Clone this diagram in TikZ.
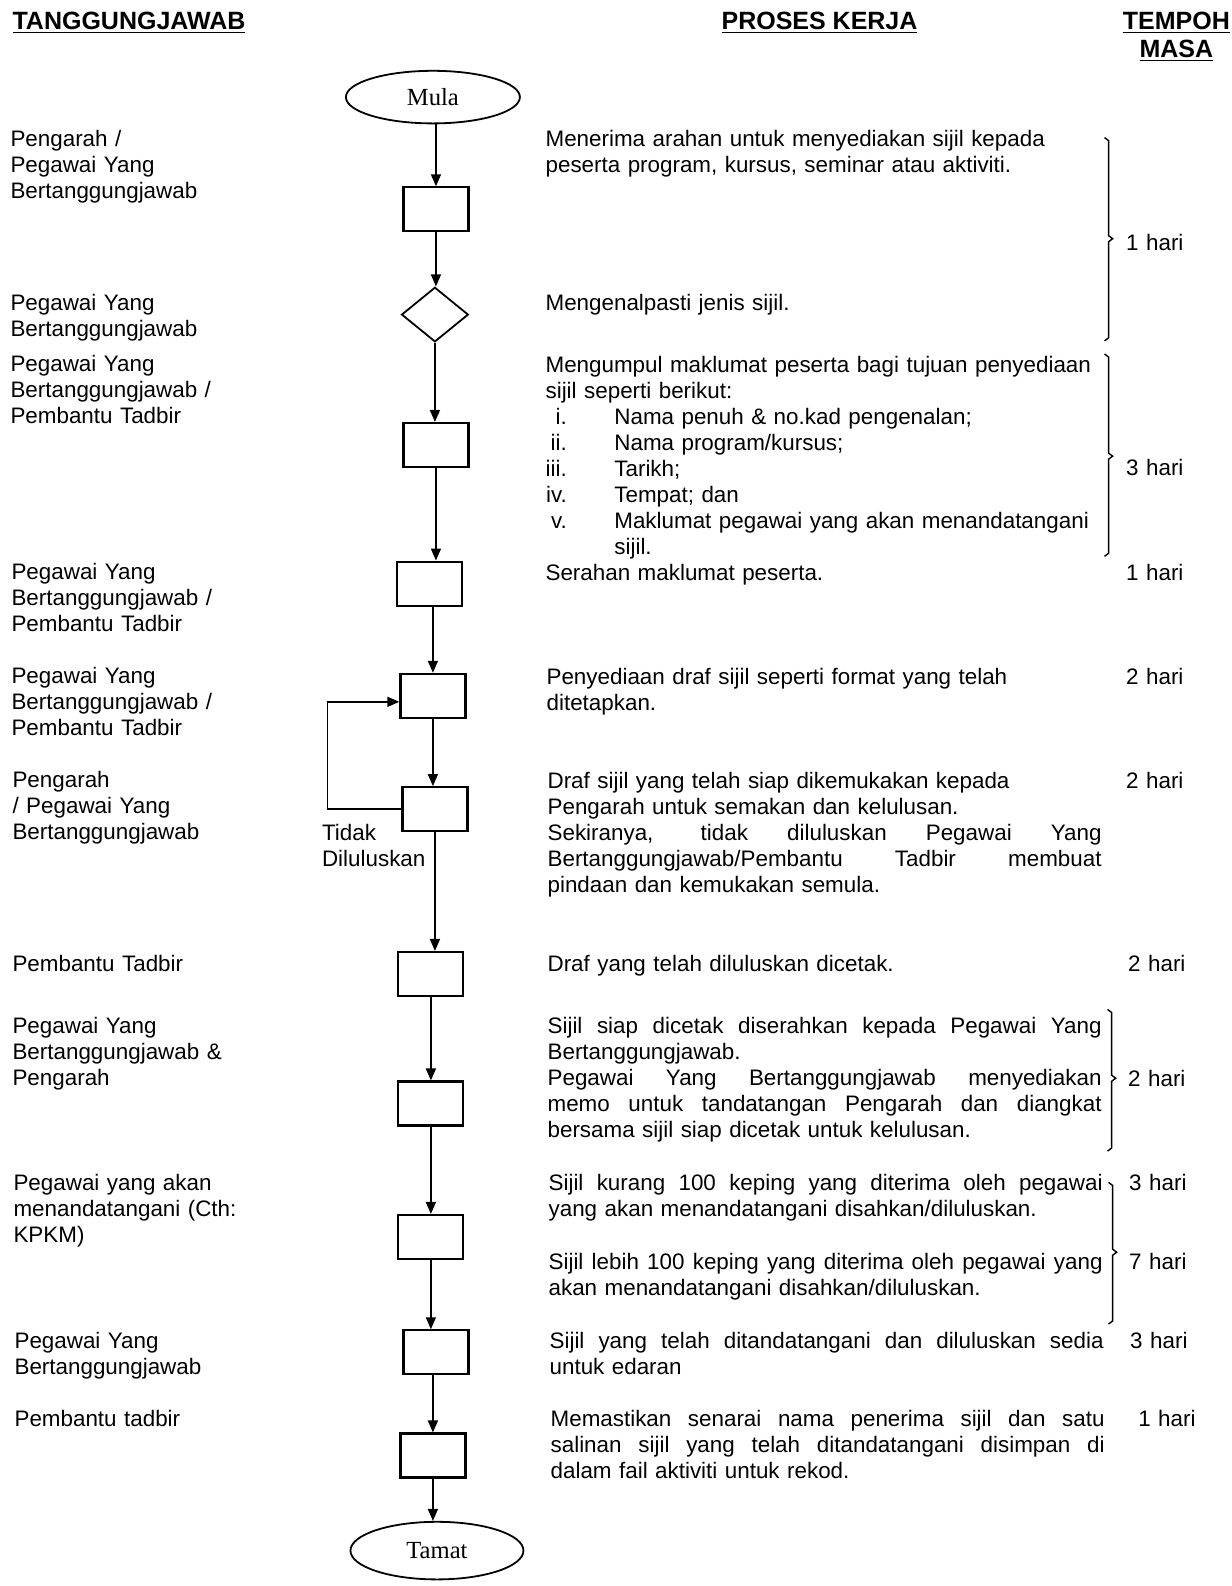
\documentclass[tikz,border=0pt]{standalone}
\usepackage{fontspec}
\setmainfont{Liberation Sans}
\newfontfamily\termfont{Liberation Serif}
\usetikzlibrary{arrows.meta,shapes.geometric}
\newlength\colw
\setlength\colw{277pt}
\newcommand{\jl}[1]{\makebox[\colw][s]{\spaceskip=0.278em plus 1em minus 0.05em\relax #1}}
\newcommand{\rn}[1]{\makebox[10.6pt][r]{#1}\hspace{23.8pt}}

\begin{document}
\begin{tikzpicture}[x=0.50575pt, y=-0.50575pt,
  box/.style={draw, line width=1.1pt, minimum width=32.5pt, minimum height=22pt, inner sep=0pt},
  term/.style={draw, ellipse, line width=0.9pt, inner sep=0pt, font=\termfont\fontsize{12.3}{14}\selectfont},
  arr/.style={line width=0.8pt, -{Triangle[length=6pt, width=5pt]}},
  brk/.style={line width=0.7pt},
  lab/.style={anchor=base west, inner sep=0pt, align=left, text width=130pt, font=\fontsize{11.2}{13}\selectfont},
  proc/.style={lab, text width=\colw},
  hdr/.style={anchor=base west, inner sep=0pt, font=\fontsize{12.5}{14}\selectfont\bfseries}]

\useasboundingbox (0,0) rectangle (1218,1568);

\node[hdr] (hTang) at (12,29) {\underline{TANGGUNGJAWAB}};
\node[hdr] (hProses) at (713,29) {\underline{PROSES KERJA}};
\node[hdr, text width=56pt, align=center, anchor=base] (hTempoh) at (1163,29) {\underline{TEMPOH}\\\underline{MASA}};

\node[term, minimum width=87pt, minimum height=26.3pt] (mula) at (428,96) {Mula};
\node[box] (b1) at (431,207) {};
\node[draw, diamond, line width=0.9pt, minimum width=33.4pt, minimum height=27.3pt, inner sep=0pt] (d1) at (430,311) {};
\node[box] (b2) at (431,440) {};
\node[box] (b3) at (425,577) {};
\node[box] (b4) at (428,688) {};
\node[box] (b5) at (430,800) {};
\node[box] (b6) at (426,963) {};
\node[box] (b7) at (426,1091) {};
\node[box] (b8) at (426,1223) {};
\node[box] (b9) at (431,1337) {};
\node[box] (b10) at (428,1439) {};
\node[term, minimum width=86.5pt, minimum height=28.8pt] (tamat) at (432,1533) {Tamat};

\draw[arr] (mula.south -| b1) -- (b1.north);
\draw[arr] (b1.south) -- (b1.south |- d1.north);
\draw[arr] (d1.south) -- (d1.south |- b2.north);
\draw[arr] (b2.south) -- (b2.south |- b3.north);
\draw[arr] (b3.south -| b4) -- (b4.north);
\draw[arr] (b4.south) -- (b4.south |- b5.north);
\draw[arr] (b5.south) -- (b5.south |- b6.north);
\draw[arr] (b6.south) -- (b6.south |- b7.north);
\draw[arr] (b7.south) -- (b7.south |- b8.north);
\draw[arr] (b8.south) -- (b8.south |- b9.north);
\draw[arr] (b9.south -| b10) -- (b10.north);
\draw[arr] (b10.south) -- (b10.south |- tamat.north);
\draw[arr] (b5.west) -- ++(-73,0) |- (b4.190);
\node[lab, text width=60pt] (tidak) at (318,831) {Tidak\\Diluluskan};

\node[lab] (t1) at (10,145) {Pengarah /\\Pegawai Yang\\Bertanggungjawab};
\node[lab] (t2) at (10,307) {Pegawai Yang\\Bertanggungjawab};
\node[lab] (t3) at (10,367) {Pegawai Yang\\Bertanggungjawab /\\Pembantu Tadbir};
\node[lab] (t4) at (11,573) {Pegawai Yang\\Bertanggungjawab /\\Pembantu Tadbir};
\node[lab] (t5) at (11,676) {Pegawai Yang\\Bertanggungjawab /\\Pembantu Tadbir};
\node[lab] (t6) at (12,779) {Pengarah\\/ Pegawai Yang\\Bertanggungjawab};
\node[lab] (t7) at (12,960) {Pembantu Tadbir};
\node[lab] (t8) at (12,1022) {Pegawai Yang\\Bertanggungjawab \&\\Pengarah};
\node[lab] (t9) at (13,1177) {Pegawai yang akan\\menandatangani (Cth:\\KPKM)};
\node[lab] (t10) at (14,1333) {Pegawai Yang\\Bertanggungjawab};
\node[lab] (t11) at (14,1410) {Pembantu tadbir};

\node[proc] (p1) at (539,145) {Menerima arahan untuk menyediakan sijil kepada\\peserta program, kursus, seminar atau aktiviti.};
\node[proc] (p2) at (539,307) {Mengenalpasti jenis sijil.};
\node[proc] (p3) at (539,368) {Mengumpul maklumat peserta bagi tujuan penyediaan\\sijil seperti berikut:\\
  \rn{i.}Nama penuh \& no.kad pengenalan;\\
  \rn{ii.}Nama program/kursus;\\
  \rn{iii.}Tarikh;\\
  \rn{iv.}Tempat; dan\\
  \rn{v.}Maklumat pegawai yang akan menandatangani\\
  \hspace*{34.4pt}sijil.};
\node[proc] (p4) at (539,574) {Serahan maklumat peserta.};
\node[proc] (p5) at (540,677) {Penyediaan draf sijil seperti format yang telah\\ditetapkan.};
\node[proc] (p6) at (541,780) {Draf sijil yang telah siap dikemukakan kepada\\Pengarah untuk semakan dan kelulusan.\\
  \jl{Sekiranya, tidak diluluskan Pegawai Yang}\\
  \jl{Bertanggungjawab/Pembantu Tadbir membuat}\\
  pindaan dan kemukakan semula.};
\node[proc] (p7) at (541,960) {Draf yang telah diluluskan dicetak.};
\node[proc] (p8) at (541,1022) {\jl{Sijil siap dicetak diserahkan kepada Pegawai Yang}\\Bertanggungjawab.\\
  \jl{Pegawai Yang Bertanggungjawab menyediakan}\\
  \jl{memo untuk tandatangan Pengarah dan diangkat}\\
  bersama sijil siap dicetak untuk kelulusan.};
\node[proc] (p9) at (542,1177) {\jl{Sijil kurang 100 keping yang diterima oleh pegawai}\\yang akan menandatangani disahkan/diluluskan.};
\node[proc] (p10) at (542,1255) {\jl{Sijil lebih 100 keping yang diterima oleh pegawai yang}\\akan menandatangani disahkan/diluluskan.};
\node[proc] (p11) at (543,1333) {\jl{Sijil yang telah ditandatangani dan diluluskan sedia}\\untuk edaran};
\node[proc] (p12) at (544,1410) {\jl{Memastikan senarai nama penerima sijil dan satu}\\\jl{salinan sijil yang telah ditandatangani disimpan di}\\dalam fail aktiviti untuk rekod.};

\node[lab] (m1) at (1113,248) {1 hari};
\node[lab] (m2) at (1113,470) {3 hari};
\node[lab] (m3) at (1113,574) {1 hari};
\node[lab] (m4) at (1113,677) {2 hari};
\node[lab] (m5) at (1113,780) {2 hari};
\node[lab] (m6) at (1115,960) {2 hari};
\node[lab] (m7) at (1115,1074) {2 hari};
\node[lab] (m8) at (1116,1177) {3 hari};
\node[lab] (m9) at (1116,1255) {7 hari};
\node[lab] (m10) at (1117,1333) {3 hari};
\node[lab] (m11) at (1125,1410) {1 hari};

\draw[brk] (1092,136) -- (1096,139) -- (1096,233) -- (1100,236) -- (1096,239) -- (1096,334) -- (1092,337);
\draw[brk] (1092,350) -- (1096,353) -- (1096,448) -- (1100,451) -- (1096,454) -- (1096,547) -- (1092,550);
\draw[brk] (1095,998) -- (1099,1001) -- (1099,1063) -- (1103,1066) -- (1099,1069) -- (1099,1135) -- (1095,1138);
\draw[brk] (1096,1169) -- (1100,1172) -- (1100,1235) -- (1104,1238) -- (1100,1241) -- (1100,1306) -- (1096,1309);
\end{tikzpicture}
\end{document}
